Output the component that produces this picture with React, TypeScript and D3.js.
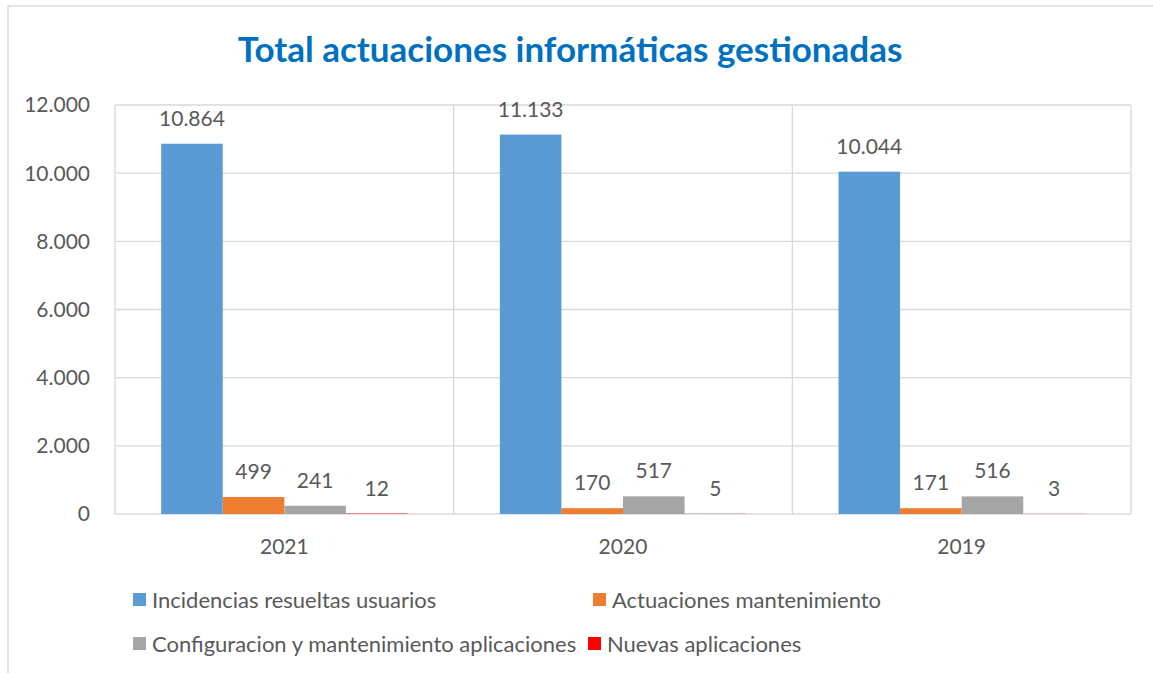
import React from "react";
import * as d3 from "d3";

const categories = ["2021", "2020", "2019"];
const seriesNames = [
  "Incidencias resueltas usuarios",
  "Actuaciones mantenimiento",
  "Configuracion y mantenimiento aplicaciones",
  "Nuevas aplicaciones",
];
const seriesColors = ["#5B9BD5", "#ED7D31", "#A5A5A5", "#FF0000"];
const incidencias = [10864, 11133, 10044];
const actuaciones = [499, 170, 171];
const configuracion = [241, 517, 516];
const nuevas = [12, 5, 3];
const yTicks = [0, 2000, 4000, 6000, 8000, 10000, 12000];

const W = 1153;
const H = 673;
const FONT = "Lato, 'Open Sans', sans-serif";
const TEXT = "#595959";
const GRID = "#D9D9D9";

const fmt = (v: number) => {
  const s = d3.format(",")(v);
  return s.replace(/,/g, ".");
};

export default function App() {
  const series = [incidencias, actuaciones, configuracion, nuevas];
  const plot = { left: 115, right: 1131, top: 105, bottom: 514 };
  const y = d3.scaleLinear().domain([0, 12000]).range([plot.bottom, plot.top]);
  const x0 = d3
    .scaleBand()
    .domain(categories)
    .range([plot.left, plot.right])
    .paddingInner(0)
    .paddingOuter(0);
  const x1 = d3
    .scaleBand()
    .domain(seriesNames)
    .range([0, x0.bandwidth()])
    .paddingOuter(0.75)
    .paddingInner(0);

  const legendRows = [
    [
      { i: 0, x: 133 },
      { i: 1, x: 593 },
    ],
    [
      { i: 2, x: 133 },
      { i: 3, x: 588 },
    ],
  ];
  const legendY = [600, 644];

  return (
    <svg
      width={W}
      height={H}
      style={{ position: "absolute", left: 0, top: 0, background: "#fff" }}
      fontFamily={FONT}
    >
      <rect x={8} y={6} width={W + 10} height={H + 10} fill="#fff" stroke={GRID} strokeWidth={1.5} />
      <text
        x={570}
        y={62}
        textAnchor="middle"
        fontSize={35}
        fontWeight={700}
        fill="#0070C0"
      >
        Total actuaciones informáticas gestionadas
      </text>
      {yTicks.map((t) => (
        <g key={t}>
          <line x1={plot.left} x2={plot.right} y1={y(t)} y2={y(t)} stroke={GRID} strokeWidth={1.3} />
          <text x={90} y={y(t)} dy="0.35em" textAnchor="end" fontSize={21} fill={TEXT}>
            {fmt(t)}
          </text>
        </g>
      ))}
      {[plot.left, ...categories.map((c) => x0(c)! + x0.bandwidth())].map((xv, i) => (
        <line key={i} x1={xv} x2={xv} y1={plot.top} y2={plot.bottom} stroke={GRID} strokeWidth={1.3} />
      ))}
      {categories.map((c, ci) => (
        <g key={c} transform={`translate(${x0(c)},0)`}>
          {seriesNames.map((s, si) => {
            const v = series[si][ci];
            const bx = x1(s)!;
            return (
              <g key={s}>
                <rect
                  x={bx}
                  y={y(v)}
                  width={x1.bandwidth()}
                  height={Math.max(y(0) - y(v), 0)}
                  fill={seriesColors[si]}
                />
                <text
                  x={bx + x1.bandwidth() / 2}
                  y={y(v) - 18}
                  textAnchor="middle"
                  fontSize={21}
                  fill={TEXT}
                >
                  {fmt(v)}
                </text>
              </g>
            );
          })}
          <text x={x0.bandwidth() / 2} y={554} textAnchor="middle" fontSize={21} fill={TEXT}>
            {c}
          </text>
        </g>
      ))}
      {legendRows.map((row, ri) =>
        row.map(({ i, x }) => (
          <g key={i}>
            <rect x={x} y={legendY[ri] - 7} width={13} height={13} fill={seriesColors[i]} />
            <text x={x + 19} y={legendY[ri]} dy="0.35em" fontSize={22} fill={TEXT}>
              {seriesNames[i]}
            </text>
          </g>
        ))
      )}
    </svg>
  );
}
